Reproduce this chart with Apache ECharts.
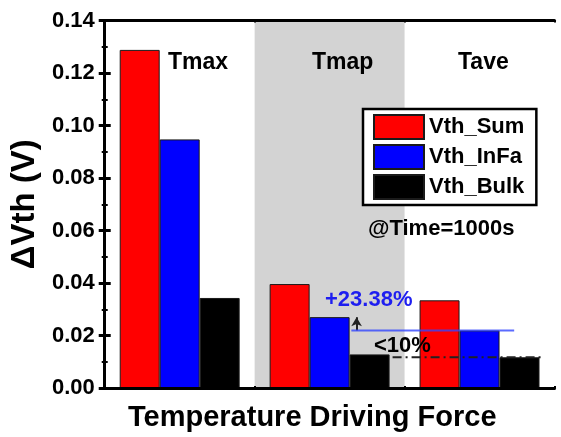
<!DOCTYPE html>
<html><head><meta charset="utf-8">
<script src="https://cdn.jsdelivr.net/npm/echarts@6/dist/echarts.min.js"></script>
<style>html,body{margin:0;padding:0;background:#fff}#chart{width:561px;height:437px}</style>
</head><body><div id="chart"></div>
<script>
// Threshold-voltage shift per temperature driving force
const categories = ['Tmax', 'Tmap', 'Tave'];
const seriesNames = ['Vth_Sum', 'Vth_InFa', 'Vth_Bulk'];
const vthSum = [0.1288, 0.0396, 0.0334];
const vthInFa = [0.0947, 0.0270, 0.0219];
const vthBulk = [0.0343, 0.0128, 0.0117];
const yMin = 0, yMax = 0.14, yStep = 0.02;
const xTitle = 'Temperature Driving Force';
const yTitle = 'ΔVth (V)';
const noteTime = '@Time=1000s';
const noteInFa = '+23.38%';
const noteBulk = '<10%';

const FONT = '"Liberation Sans", Arial, Helvetica, sans-serif';
const colors = ['#ff0000', '#0000ff', '#000000'];

// category slot coordinates (0..3) used for the highlighted band and guide lines
const bandRange = [1, 2];
const inFaGuideX = [1.645, 2.731];
const bulkGuideX = [1.92, 2.925];
const arrowX = 1.68;

const chart = echarts.init(document.getElementById('chart'), null, { renderer: 'canvas' });

const axisLineStyle = { color: '#000', width: 3 };

function barSeries(name, values, color) {
  return {
    name, type: 'bar', xAxisIndex: 0, yAxisIndex: 0, data: values,
    barCategoryGap: '20%', barGap: '0%', z: 3,
    itemStyle: { color, borderColor: '#1a1a1a', borderWidth: 1 }
  };
}

chart.setOption({
  animation: false,
  backgroundColor: '#fff',
  textStyle: { fontFamily: FONT },
  grid: { left: 103, right: 6.5, top: 20.5, bottom: 49 },
  legend: {
    data: seriesNames, orient: 'vertical', left: 363, top: 109,
    icon: 'rect', itemWidth: 50, itemHeight: 24, itemGap: 4,
    padding: [5, 12, 5, 10], borderColor: '#000', borderWidth: 2.5,
    backgroundColor: '#fff', selectedMode: false,
    textStyle: { fontSize: 22, fontWeight: 'bold', color: '#000', fontFamily: FONT, lineHeight: 24 }
  },
  xAxis: [
    { type: 'category', data: categories, position: 'bottom', z: 10,
      axisLine: { lineStyle: axisLineStyle }, axisLabel: { show: false },
      axisTick: { inside: true, alignWithLabel: true, length: 5, lineStyle: { width: 3, color: '#000' } } },
    { type: 'value', min: 0, max: 3, interval: 1, position: 'bottom', z: 10,
      axisLine: { show: false }, axisLabel: { show: false }, splitLine: { show: false },
      axisTick: { show: true, inside: true, length: 2, lineStyle: { width: 2, color: '#000' } } },
    { type: 'category', data: categories, position: 'top', z: 10,
      axisLine: { lineStyle: axisLineStyle }, axisLabel: { show: false },
      axisTick: { inside: true, alignWithLabel: true, length: 5, lineStyle: { width: 3, color: '#000' } } },
    { type: 'value', min: 0, max: 3, interval: 1, position: 'top', z: 10,
      axisLine: { show: false }, axisLabel: { show: false }, splitLine: { show: false },
      axisTick: { show: true, inside: true, length: 2, lineStyle: { width: 2, color: '#000' } } }
  ],
  yAxis: [
    { type: 'value', min: yMin, max: yMax, interval: yStep, position: 'left', z: 10,
      name: yTitle, nameLocation: 'middle', nameGap: 58,
      nameTextStyle: { fontSize: 33, fontWeight: 'bold', color: '#000', fontFamily: FONT },
      axisLine: { show: true, lineStyle: axisLineStyle },
      axisTick: { show: true, inside: true, length: 6, lineStyle: { width: 3, color: '#000' } },
      minorTick: { show: true, splitNumber: 2, length: 3, lineStyle: { width: 2, color: '#000' } },
      splitLine: { show: false },
      axisLabel: { margin: 10, fontSize: 22, fontWeight: 'bold', color: '#000', fontFamily: FONT,
        formatter: v => v.toFixed(2) } },
    { type: 'value', min: yMin, max: yMax, interval: yStep, position: 'right', z: 10,
      axisLine: { show: true, lineStyle: axisLineStyle },
      axisTick: { show: true, inside: true, length: 6, lineStyle: { width: 3, color: '#000' } },
      minorTick: { show: true, splitNumber: 2, length: 3, lineStyle: { width: 2, color: '#000' } },
      splitLine: { show: false }, axisLabel: { show: false } }
  ],
  series: [
    // grey band behind the middle category
    { name: 'band', type: 'line', xAxisIndex: 1, yAxisIndex: 0, data: [], z: 1, silent: true,
      markArea: { silent: true, itemStyle: { color: '#d3d3d3' },
        data: [[{ xAxis: bandRange[0] }, { xAxis: bandRange[1] }]] } },
    barSeries(seriesNames[0], vthSum, colors[0]),
    barSeries(seriesNames[1], vthInFa, colors[1]),
    barSeries(seriesNames[2], vthBulk, colors[2]),
    // InFa reference level carried over from Tave
    { name: 'inFaGuide', type: 'line', xAxisIndex: 1, yAxisIndex: 0, z: 5, silent: true,
      symbol: 'none', lineStyle: { color: 'rgba(50,70,255,0.8)', width: 2 },
      data: [[inFaGuideX[0], vthInFa[2]], [inFaGuideX[1], vthInFa[2]]],
      markLine: { silent: true, symbol: ['none', 'arrow'], symbolSize: [8, 9], label: { show: false },
        lineStyle: { color: '#222', width: 2, type: 'solid' },
        data: [[{ coord: [arrowX, vthInFa[2]] }, { coord: [arrowX, vthInFa[1]] }]] } },
    // Bulk reference level
    { name: 'bulkGuide', type: 'line', xAxisIndex: 1, yAxisIndex: 0, z: 5, silent: true,
      symbol: 'none', lineStyle: { color: '#222', width: 2, type: [9, 4, 2, 4] },
      data: [[bulkGuideX[0], vthBulk[2]], [bulkGuideX[1], vthBulk[2]]] }
  ],
  graphic: [
    { type: 'text', left: 168, top: 51, z: 20, style: { text: categories[0], font: 'bold 23px ' + FONT, fill: '#000' } },
    { type: 'text', left: 312, top: 51, z: 20, style: { text: categories[1], font: 'bold 23px ' + FONT, fill: '#000' } },
    { type: 'text', left: 458, top: 51, z: 20, style: { text: categories[2], font: 'bold 23px ' + FONT, fill: '#000' } },
    { type: 'text', left: 368, top: 218, z: 20, style: { text: noteTime, font: 'bold 22px ' + FONT, fill: '#000' } },
    { type: 'text', left: 325, top: 289, z: 20, style: { text: noteInFa, font: 'bold 22px ' + FONT, fill: '#1e1ef0' } },
    { type: 'text', left: 374, top: 335, z: 20, style: { text: noteBulk, font: 'bold 22px ' + FONT, fill: '#000' } },
    { type: 'text', left: 128, top: 403, z: 20, style: { text: xTitle, font: 'bold 29px ' + FONT, fill: '#000' } }
  ]
});
</script></body></html>
